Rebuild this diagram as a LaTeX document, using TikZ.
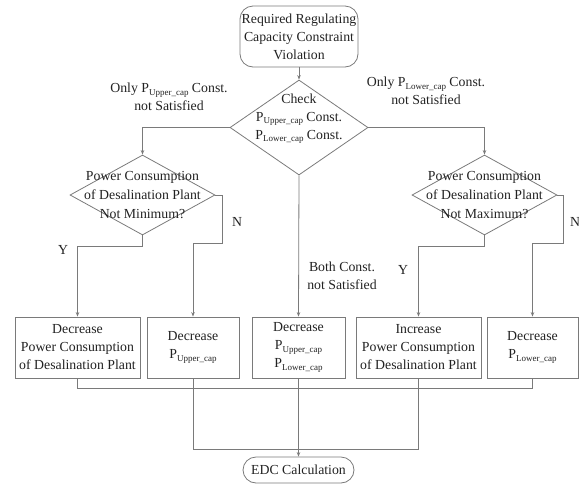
\documentclass[tikz,border=0pt]{standalone}
\usepackage{fontspec}
\setmainfont{Liberation Serif}
\usetikzlibrary{shapes.geometric,arrows.meta,shadows}
\newcommand\subtxt[1]{\raisebox{-0.4ex}{\fontsize{9}{10}\selectfont #1}}
\definecolor{linegray}{HTML}{7A7A7A}
\definecolor{txt}{HTML}{222222}
\begin{document}
\begin{tikzpicture}[x=1pt,y=-1pt,
  font=\fontsize{13.8}{18}\selectfont, text=txt,
  conn/.style={draw=linegray, line width=0.8pt},
  arr/.style={conn, -{Stealth[length=4.5pt,width=3.5pt]}},
  procbox/.style={draw=linegray, line width=0.8pt, fill=white, rectangle, inner sep=0pt,
     minimum height=61pt, align=center,
     drop shadow={shadow xshift=0.8pt, shadow yshift=-0.8pt, fill=gray!60, opacity=1}},
  termbox/.style={draw=linegray, line width=0.8pt, rounded corners=13pt, inner sep=0pt, align=center},
  decision/.style={draw=linegray, line width=0.8pt, shape=diamond, inner sep=0pt},
  inlabel/.style={align=center, inner sep=0pt},
  lbl/.style={align=center, inner sep=0pt}
]
\useasboundingbox (0,0) rectangle (579,483);

% start
\node[termbox, minimum width=118pt, minimum height=61pt] (start) at (299,36.5)
  {Required Regulating\\Capacity Constraint\\Violation};

% check diamond
\node[decision, minimum width=138pt, minimum height=95pt,
  label={[inlabel, yshift=9pt]center:Check\\P\subtxt{Upper\_cap} Const.\\P\subtxt{Lower\_cap} Const.}] (check) at (299,127.5) {};

% side diamonds
\node[decision, minimum width=145pt, minimum height=80pt,
  label={[inlabel, font=\fontsize{13.8}{19}\selectfont]center:Power Consumption\\of Desalination Plant\\Not Minimum?}] (ldia) at (142.5,195) {};
\node[decision, minimum width=145pt, minimum height=80pt,
  label={[inlabel, font=\fontsize{13.8}{19}\selectfont]center:Power Consumption\\of Desalination Plant\\Not Maximum?}] (rdia) at (484.5,195) {};

% boxes
\node[procbox, minimum width=125pt] (box1) at (77.5,347.5) {Decrease\\Power Consumption\\of Desalination Plant};
\node[procbox, minimum width=92pt] (box2) at (193,347.5) {Decrease\\P\subtxt{Upper\_cap}};
\node[procbox, minimum width=93pt] (box3) at (298.5,347.5) {Decrease\\P\subtxt{Upper\_cap}\\P\subtxt{Lower\_cap}};
\node[procbox, minimum width=125pt] (box4) at (418.5,347.5) {Increase\\Power Consumption\\of Desalination Plant};
\node[procbox, minimum width=91pt] (box5) at (532.5,347.5) {Decrease\\P\subtxt{Lower\_cap}};

% end
\node[termbox, minimum width=111pt, minimum height=26pt] (edc) at (298.5,470) {EDC Calculation};

% labels
\node[lbl] (l1) at (169,97) {Only P\subtxt{Upper\_cap} Const.\\not Satisfied};
\node[lbl] (l2) at (426,91) {Only P\subtxt{Lower\_cap} Const.\\not Satisfied};
\node[lbl] (l3) at (342,276) {Both Const.\\not Satisfied};
\node[lbl] (ly1) at (63,250) {Y};
\node[lbl] (ln1) at (237,222) {N};
\node[lbl] (ly2) at (403,270) {Y};
\node[lbl] (ln2) at (575,222) {N};

% connectors
\draw[arr] (start.south) -- (check.north);
\draw[arr] (check.west) -| (ldia.north);
\draw[arr] (check.east) -| (rdia.north);
\draw[arr] (check.south) -- (box3.north);

\draw[arr] (ldia.south) -- ++(0,11) -| (box1.north);
\draw[arr] (ldia.east) -- ++(7,0) -- ++(0,48) -| (box2.north);
\draw[arr] (rdia.south) -- ++(0,11) -| (box4.north);
\draw[arr] (rdia.east) -- ++(6,0) -- ++(0,48) -| (box5.north);

\draw[conn] (box1.south) -- ++(0,9.5) -| (box5.south);
\draw[conn] (box2.south) -- ++(0,71) -| (box4.south);
\draw[arr] (box3.south) -- (edc.north);
\end{tikzpicture}
\end{document}
